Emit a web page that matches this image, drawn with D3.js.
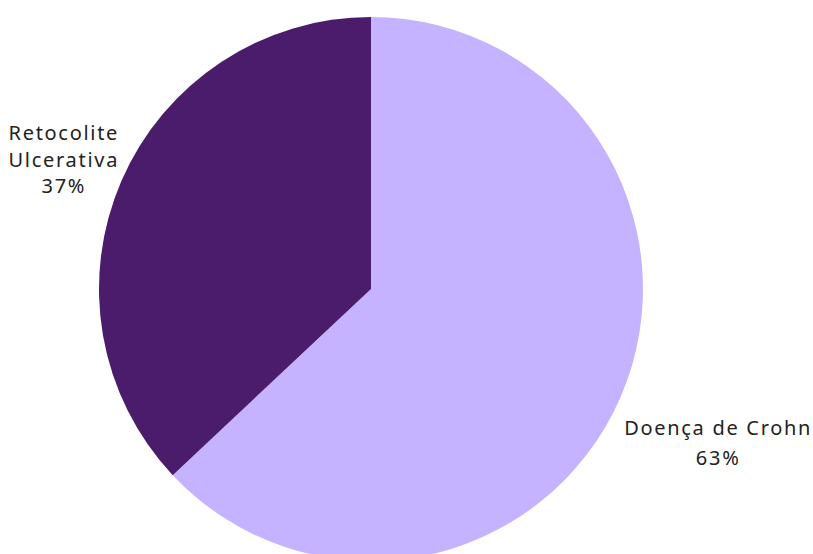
<!DOCTYPE html>
<html>
<head>
<meta charset="utf-8">
<script src="https://cdn.jsdelivr.net/npm/d3@7"></script>
<style>
  body { margin: 0; background: #fff; }
  text { font-family: "Noto Sans", sans-serif; fill: #222; }
</style>
</head>
<body>
<svg id="chart" width="813" height="554"></svg>
<script>
const categories = ["Doença de Crohn", "Retocolite Ulcerativa"];
const values = [63, 37];
const labelLines = [["Doença de Crohn", "63%"], ["Retocolite", "Ulcerativa", "37%"]];
const colors = ["#c6b3ff", "#4b1c6b"];

const width = 813, height = 554;
const cx = 371, cy = 289, radius = 272;

const svg = d3.select("#chart");
const g = svg.append("g").attr("transform", `translate(${cx},${cy})`);

const data = categories.map((c, i) => ({name: c, value: values[i], lines: labelLines[i], color: colors[i]}));

const pie = d3.pie().value(d => d.value).sort(null);
const arc = d3.arc().innerRadius(0).outerRadius(radius);

const arcs = pie(data);

g.selectAll("path")
    .data(arcs)
    .enter()
    .append("path")
    .attr("d", arc)
    .attr("fill", d => d.data.color);

// labels outside, pushed out by half the text width
const labels = g.selectAll(".label")
    .data(arcs)
    .enter()
    .append("text")
    .attr("class", "label")
    .attr("text-anchor", "middle")
    .style("font-size", "20px")
    .style("letter-spacing", "1.7px");

labels.each(function(d) {
    const t = d3.select(this);
    d.data.lines.forEach((line, i) => {
        t.append("tspan").attr("x", 0).attr("dy", i === 0 ? 0 : (d.index === 0 ? "1.5em" : "1.33em")).text(line);
    });
});

labels.attr("transform", function(d) {
    const box = this.getBBox();
    const mid = (d.startAngle + d.endAngle) / 2;
    const s = Math.sin(mid), c = Math.cos(mid);
    const r = radius + (d.index === 0 ? 20 : 12) + box.width / 2 * Math.abs(s);
    const x = r * s;
    const y = -r * c;
    // center block vertically on the point
    const oy = -(box.y + box.height / 2) + 3;
    return `translate(${x},${y + oy})`;
});
</script>
</body>
</html>
